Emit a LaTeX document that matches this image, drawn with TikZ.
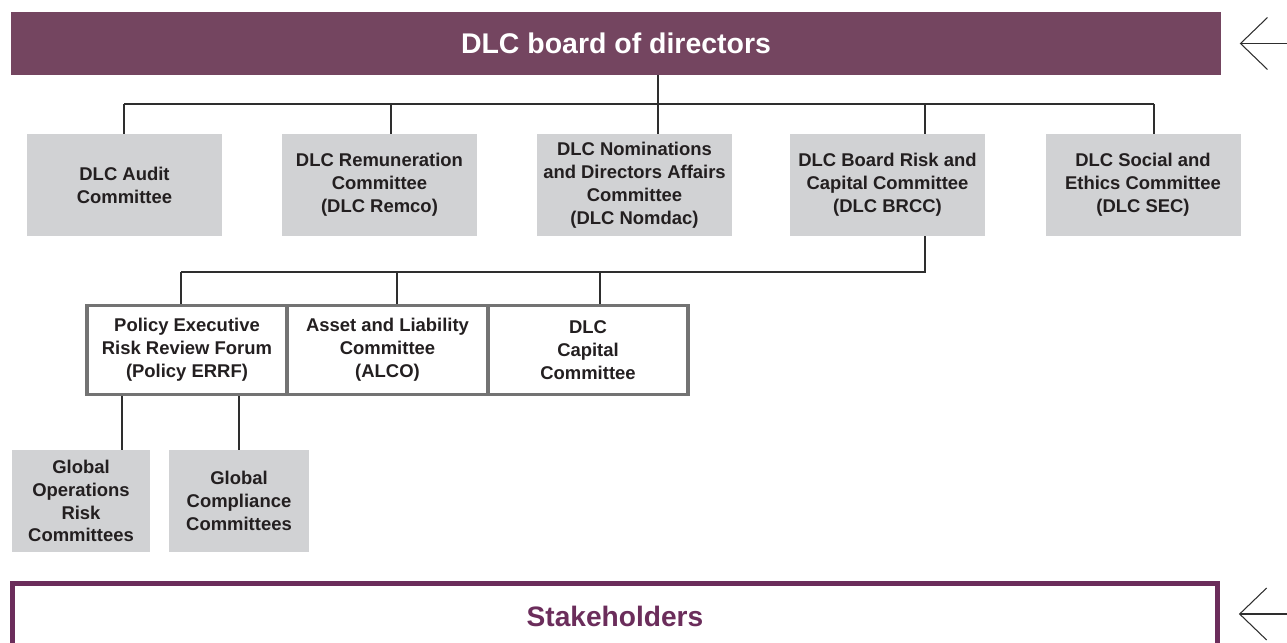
\documentclass[tikz,border=0pt]{standalone}
\usepackage{fontspec}
\setmainfont{Liberation Sans}
\usepackage{tikz}
\usetikzlibrary{arrows.meta,calc}
\definecolor{plum}{HTML}{744560}
\definecolor{plumdk}{HTML}{6B2D5B}
\definecolor{boxgray}{HTML}{D1D2D4}
\definecolor{edgegray}{HTML}{737373}
\definecolor{ink}{HTML}{2E2E2E}
\definecolor{txt}{HTML}{231F20}

\begin{document}
\begin{tikzpicture}[x=0.02cm,y=-0.02cm,
    board/.style={fill=plum,text=white,inner sep=0,
      font=\bfseries\fontsize{16.2}{19}\selectfont,
      minimum width=24.2cm,minimum height=1.26cm},
    cmte/.style={fill=boxgray,text=txt,align=center,inner sep=0,
      font=\bfseries\fontsize{10.5}{13}\selectfont,
      minimum width=#1,minimum height=2.04cm},
    cmte/.default=3.9cm,
    forum/.style={draw=edgegray,fill=white,text=txt,line width=1.8pt,align=center,inner sep=0,
      font=\bfseries\fontsize{10.5}{13}\selectfont,
      minimum width=4cm,minimum height=1.78cm},
    stake/.style={draw=plumdk,line width=2.85pt,text=plumdk,inner sep=0,
      font=\bfseries\fontsize{16}{19}\selectfont,
      minimum width=24.12cm,minimum height=1.3cm},
    link/.style={draw=ink,line width=0.7pt},
    feed/.style={draw=ink,line width=0.6pt,shorten >=0.37cm,
      -{Straight Barb[length=0.54cm,width=1.04cm]}}]
  \useasboundingbox (0,0) rectangle (1287,642);

  % board and its five committees
  \node[board] (board) at (616,43.5) {DLC board of directors};
  \node[cmte] (aud)  at (124.5,185) {DLC Audit\\Committee};
  \node[cmte] (rem)  at (379.5,185) {DLC Remuneration\\Committee\\(DLC Remco)};
  \node[cmte] (nom)  at (634.5,185) {DLC Nominations\\and Directors Affairs\\Committee\\(DLC Nomdac)};
  \node[cmte] (brcc) at (887.5,185) {DLC Board Risk and\\Capital Committee\\(DLC BRCC)};
  \node[cmte] (sec)  at (1143,185)  {DLC Social and\\Ethics Committee\\(DLC SEC)};

  % forums reporting to the BRCC
  \node[forum] (perrf) at (187,350)   {Policy Executive\\Risk Review Forum\\(Policy ERRF)};
  \node[forum] (alco)  at (387.5,350) {Asset and Liability\\Committee\\(ALCO)};
  \node[forum] (cap)   at (588,350)   {DLC\\Capital\\Committee};

  % committees under the Policy ERRF
  \node[cmte=2.76cm] (gor) at (81,501)  {Global\\Operations\\Risk\\Committees};
  \node[cmte=2.8cm]  (gcc) at (239,501) {Global\\Compliance\\Committees};

  \node[stake] (stake) at (615,616) {Stakeholders};

  % first bus: drop points on the committee row
  \foreach \n/\x in {aud/124,rem/391,nom/658,brcc/925,sec/1154} {
    \coordinate (\n-top) at (\x,104);
    \draw[link] (\n-top) -- (\n-top |- \n.north);
  }
  \draw[link] (aud-top) -- (sec-top);
  \draw[link] (board.south -| nom-top) -- (nom-top);

  % second bus, fed from the BRCC
  \foreach \n/\x in {perrf/181,alco/397,cap/600} {
    \coordinate (\n-top) at (\x,272);
    \draw[link] (\n-top) -- (\n-top |- \n.north);
  }
  \draw[link] (brcc.south -| brcc-top) |- (perrf-top);

  % Policy ERRF down to the global committees
  \coordinate (gor-x) at (122,0);
  \coordinate (gcc-x) at (239,0);
  \draw[link] (perrf.south -| gor-x) -- (gor-x |- gor.north);
  \draw[link] (perrf.south -| gcc-x) -- (gcc-x |- gcc.north);

  % inputs from the right
  \coordinate (in-board) at (1287,43.5);
  \coordinate (in-stake) at (1287,614);
  \draw[feed] (in-board) -- (board.east);
  \draw[feed] (in-stake) -- (stake.east |- in-stake);
\end{tikzpicture}
\end{document}
